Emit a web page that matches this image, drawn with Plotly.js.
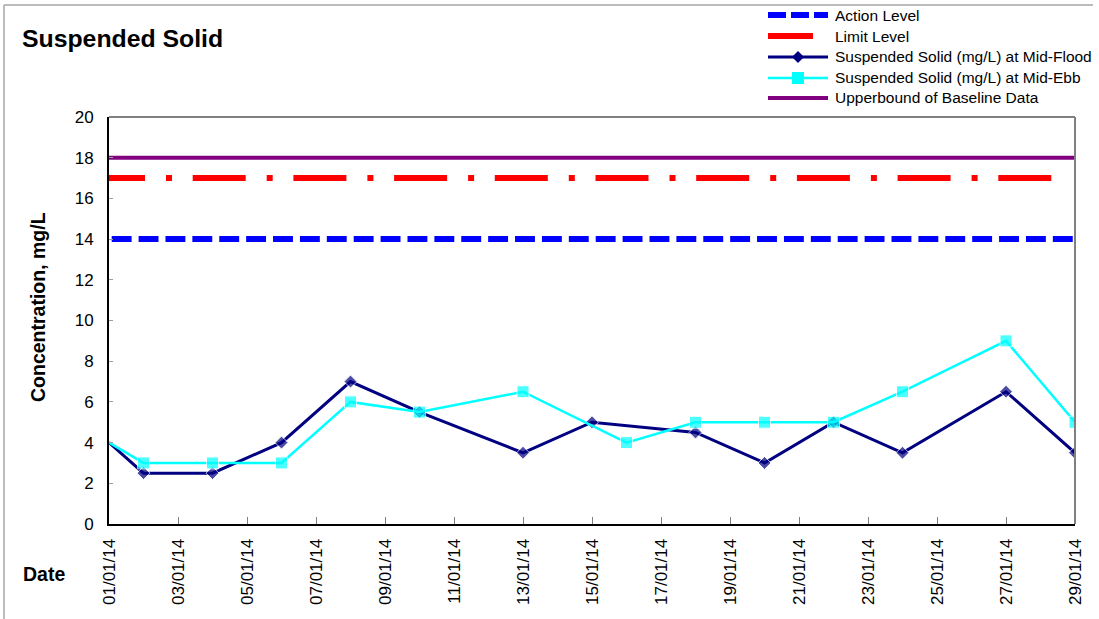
<!DOCTYPE html>
<html>
<head>
<meta charset="utf-8">
<script src="https://cdn.plot.ly/plotly-3.0.1.min.js"></script>
<style>html,body{margin:0;padding:0;background:#fff;}#chart{width:1099px;height:619px;}</style>
</head>
<body>
<div id="chart"></div>
<script>
// ---- data ----
const floodDates = ['2014-01-01','2014-01-02','2014-01-04','2014-01-06','2014-01-08','2014-01-10','2014-01-13','2014-01-15','2014-01-18','2014-01-20','2014-01-22','2014-01-24','2014-01-27','2014-01-29'];
const floodValues = [4, 2.5, 2.5, 4, 7, 5.5, 3.5, 5, 4.5, 3, 5, 3.5, 6.5, 3.5];
const ebbDates = ['2014-01-01','2014-01-02','2014-01-04','2014-01-06','2014-01-08','2014-01-10','2014-01-13','2014-01-16','2014-01-18','2014-01-20','2014-01-22','2014-01-24','2014-01-27','2014-01-29'];
const ebbValues = [4, 3, 3, 3, 6, 5.5, 6.5, 4, 5, 5, 5, 6.5, 9, 5];
const levelDates = ['2014-01-01', '2014-01-29'];
const actionLevel = 14;
const limitLevel = 17;
const upperbound = 18;
const seriesNames = ['Action Level', 'Limit Level', 'Suspended Solid (mg/L) at Mid-Flood', 'Suspended Solid (mg/L) at Mid-Ebb', 'Upperbound of Baseline Data'];
const yTicks = [0, 2, 4, 6, 8, 10, 12, 14, 16, 18, 20];

// ---- styling helpers ----
function dashList(prefix, pattern, reps, suffix) {
  let parts = prefix.slice();
  for (let i = 0; i < reps; i++) parts = parts.concat(pattern);
  parts = parts.concat(suffix || []);
  return parts.map(v => v + 'px').join(',');
}
const actionDash = dashList([0, 2.7], [19.9, 6.99], 40);
const limitDash = dashList([36, 21, 6, 20.7], [53, 21, 6, 20.7], 8, [53, 400]);
const hideFirst = arr => arr.map((v, i) => i === 0 ? 0 : 1);

const M = {l: 109, r: 24, t: 117, b: 95, autoexpand: false};
const W = 1099, H = 619;
const pw = W - M.l - M.r, ph = H - M.t - M.b;
const px2x = p => (p - M.l) / pw;
const py2y = p => (H - M.b - p) / ph;

const font = '"Liberation Sans", Arial, sans-serif';
const colors = ['#0000FF', '#FF0000', '#000080', '#00FFFF', '#800080'];

const traces = [
  {x: levelDates, y: levelDates.map(() => actionLevel), name: seriesNames[0], mode: 'lines',
   line: {color: colors[0], width: 6, dash: actionDash}},
  {x: levelDates, y: levelDates.map(() => limitLevel), name: seriesNames[1], mode: 'lines',
   line: {color: colors[1], width: 6, dash: limitDash}},
  {x: levelDates, y: levelDates.map(() => upperbound), name: seriesNames[4], mode: 'lines',
   line: {color: colors[4], width: 4}},
  {x: floodDates, y: floodValues, name: seriesNames[2], mode: 'lines+markers',
   line: {color: colors[2], width: 3},
   marker: {symbol: 'diamond', color: colors[2], size: hideFirst(floodValues).map(s => s * 10)}},
  {x: ebbDates, y: ebbValues, name: seriesNames[3], mode: 'lines+markers',
   line: {color: colors[3], width: 2.5},
   marker: {symbol: 'square', color: colors[3], size: hideFirst(ebbValues).map(s => s * 12)}}
];

// ---- manual legend (shapes + annotations) ----
const legX0 = 768, legX1 = 828, legTextX = 834;
const legY = [15, 36, 57, 78, 98];
const legDash = ['18px,5px', '45px,20px', 'solid', 'solid', 'solid'];
const legWidth = [6, 6, 3, 2.5, 4];
const legendShapes = [];
const legendAnn = [];
seriesNames.forEach((name, i) => {
  legendShapes.push({type: 'line', xref: 'paper', yref: 'paper',
    x0: px2x(legX0), x1: px2x(legX1), y0: py2y(legY[i]), y1: py2y(legY[i]),
    line: {color: colors[i], width: legWidth[i], dash: legDash[i]}});
  legendAnn.push({text: name, xref: 'paper', yref: 'paper', x: px2x(legTextX - 1), y: py2y(legY[i]),
    xanchor: 'left', yanchor: 'middle', showarrow: false, font: {family: font, size: 15.5, color: '#000'}});
});
const mc = (legX0 + legX1) / 2;
// diamond marker for Mid-Flood
{
  const cy = legY[2], r = 6;
  legendShapes.push({type: 'path', xref: 'paper', yref: 'paper',
    path: `M${px2x(mc)},${py2y(cy - r)} L${px2x(mc + r)},${py2y(cy)} L${px2x(mc)},${py2y(cy + r)} L${px2x(mc - r)},${py2y(cy)} Z`,
    fillcolor: colors[2], line: {color: colors[2], width: 0}});
}
// square marker for Mid-Ebb
{
  const cy = legY[3], r = 6;
  legendShapes.push({type: 'rect', xref: 'paper', yref: 'paper',
    x0: px2x(mc - r), x1: px2x(mc + r), y0: py2y(cy + r), y1: py2y(cy - r),
    fillcolor: colors[3], line: {color: colors[3], width: 0}});
}

const layout = {
  width: W, height: H,
  margin: M,
  paper_bgcolor: '#fff', plot_bgcolor: '#fff',
  font: {family: font, color: '#000'},
  showlegend: false,
  hovermode: false,
  title: {text: '<b>Suspended Solid</b>', font: {family: font, size: 24.8, color: '#000'},
          xref: 'container', yref: 'container', x: 22 / W, xanchor: 'left', y: 1 - 38 / H, yanchor: 'middle'},
  xaxis: {
    type: 'date', range: [levelDates[0], levelDates[1]],
    tick0: levelDates[0], dtick: 2 * 86400000, tickformat: '%d/%m/%y', tickangle: -90,
    tickfont: {family: font, size: 17, color: '#000'},
    ticks: 'inside', ticklen: 7, tickcolor: '#808080', tickwidth: 1,
    showline: true, linecolor: '#000', linewidth: 2, showgrid: false, zeroline: false,
    ticklabelstandoff: 6, fixedrange: true
  },
  yaxis: {
    range: [0, 20], tickvals: yTicks, ticktext: yTicks.map(String),
    tickfont: {family: font, size: 17, color: '#000'},
    ticks: 'inside', ticklen: 4, tickcolor: '#a0a0a0', tickwidth: 1,
    showline: true, linecolor: '#000', linewidth: 2, showgrid: false, zeroline: false,
    ticklabelstandoff: 10, fixedrange: true
  },
  annotations: [
    {text: '<b>Concentration, mg/L</b>', textangle: -90, xref: 'paper', yref: 'paper',
     x: px2x(38), y: py2y(307), xanchor: 'center', yanchor: 'middle', showarrow: false,
     font: {family: font, size: 19.5, color: '#000'}},
    {text: '<b>Date</b>', xref: 'paper', yref: 'paper',
     x: px2x(21), y: py2y(574), xanchor: 'left', yanchor: 'middle', showarrow: false,
     font: {family: font, size: 19.5, color: '#000'}}
  ].concat(legendAnn),
  shapes: [
    // plot area top & right border
    {type: 'line', xref: 'paper', yref: 'paper', x0: 0, x1: 1, y0: 1, y1: 1, line: {color: '#808080', width: 2}},
    {type: 'line', xref: 'paper', yref: 'paper', x0: 1, x1: 1, y0: 0, y1: 1, line: {color: '#808080', width: 2}},
    // outer frame (top & left)
    {type: 'line', xref: 'paper', yref: 'paper', x0: px2x(4), x1: px2x(1093), y0: py2y(5), y1: py2y(5), line: {color: '#a6a6a6', width: 1.5}},
    {type: 'line', xref: 'paper', yref: 'paper', x0: px2x(4), x1: px2x(4), y0: py2y(5), y1: py2y(619), line: {color: '#a6a6a6', width: 1.5}}
  ].concat(legendShapes)
};

Plotly.newPlot('chart', traces, layout, {displayModeBar: false, staticPlot: true});
</script>
</body>
</html>
